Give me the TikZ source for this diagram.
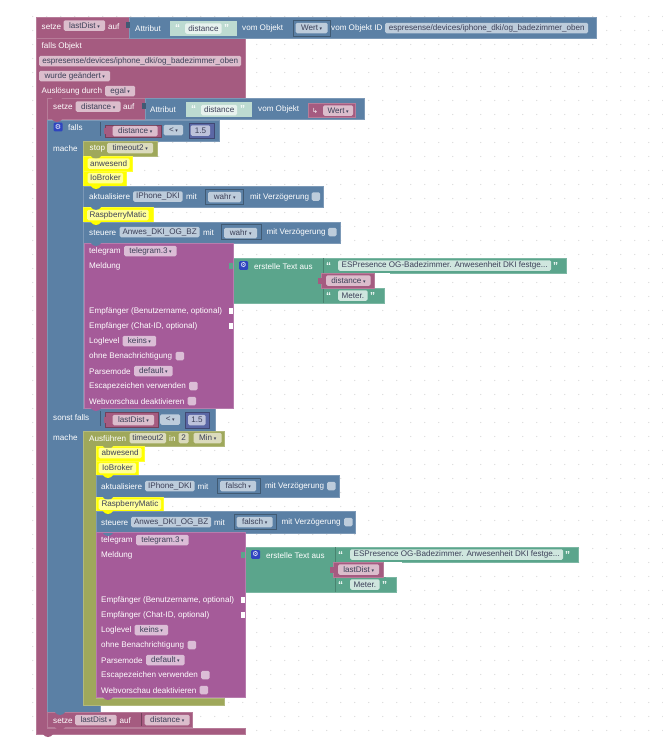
\documentclass[tikz,border=0pt]{standalone}
\usepackage{fontspec}
\setmainfont{Liberation Sans}
\newfontfamily\symfont{DejaVu Sans}
\definecolor{redblock}{HTML}{A55B80}
\definecolor{blueblock}{HTML}{5B80A5}
\definecolor{oliveblock}{HTML}{9FA85B}
\definecolor{purpleblock}{HTML}{A55B99}
\definecolor{greenblock}{HTML}{5BA58C}
\definecolor{numblock}{HTML}{5B67A5}
\definecolor{yellowblock}{HTML}{FFFF00}
\definecolor{lightgreen}{HTML}{BDDBD1}
\definecolor{chipred}{HTML}{DBBDCC}
\definecolor{chipblue}{HTML}{BDCCDB}
\definecolor{chipolive}{HTML}{DBDBBD}
\definecolor{chippurple}{HTML}{DBBDD6}
\definecolor{chipgreen}{HTML}{CFE6DE}
\definecolor{chipnum}{HTML}{BDC2DB}
\definecolor{chipyellow}{HTML}{FFFF99}
\definecolor{chiptext}{HTML}{3C4058}
\definecolor{griddot}{HTML}{D8D8D8}
\definecolor{gearblue}{HTML}{2F45C0}
\tikzset{
    blk/.style={fill=#1, draw=#1!80!white, line width=.4pt},
    slot/.style={fill=#1, draw=#1!70!black, line width=.5pt},
    lbl/.style={anchor=west, inner sep=0pt, yshift=-.5pt, text=white, font=\fontsize{8.1}{9.7}\selectfont},
    chipbox/.style={fill=#1, rounded corners=1.5pt, anchor=west, inner sep=0pt, minimum height=10.5pt,
        text=chiptext, font=\fontsize{8.1}{9.7}\selectfont},
    checkbox/.style={fill=#1, rounded corners=1.5pt, anchor=west, inner sep=0pt, minimum size=8.5pt},
    gearbox/.style={fill=gearblue, rounded corners=1pt, anchor=west, inner sep=0pt, minimum size=8.8pt,
        text=white, font=\symfont\fontsize{7}{7}\selectfont},
    quot/.style={anchor=west, inner sep=0pt, text=white, font=\bfseries\fontsize{10}{10}\selectfont}
}
\newcommand{\dd}{{\symfont\fontsize{5}{5}\selectfont\ ▾}}
\newcommand{\lbl}[4]{\node[lbl] (#1) at (#2,#3) {#4};}
\newcommand{\chip}[6]{\node[chipbox=#1, minimum width={(#4-#3)*1pt}] (#2) at (#3,#5) {#6};}
\newcommand{\cbox}[4]{\node[checkbox=#1] (#2) at (#3,#4) {};}
\newcommand{\bump}[3]{\fill[#3] (#1-5,#2) .. controls (#1-3,#2+4) and (#1+3,#2+4) .. (#1+5,#2) -- cycle;}
\newcommand{\tabin}[3]{\fill[#3] (#1-2,#2-3) rectangle (#1+2,#2+3);}
\newcommand{\telegramblock}[6]{
    \begin{scope}[shift={(#2,#3)}]
        \draw[blk=greenblock] (233,258) -- (566.5,258) -- (566.5,273) -- (374,273) -- (374,288)
            -- (384,288) -- (384,303) -- (233,303) -- cycle;
        \fill[white] (#6,273) rectangle (390,288);
        \draw[blk=purpleblock] (84,243) rectangle (233,408);
        \tabin{231}{266}{greenblock}
        \fill[white] (229,308) rectangle (233,314);
        \fill[white] (229,323) rectangle (233,329);
        \lbl{#1tele}{89}{251}{telegram}
        \chip{chippurple}{#1inst}{124}{176.5}{251}{telegram.3\dd}
        \lbl{#1meld}{89}{266}{Meldung}
        \lbl{#1user}{89}{311}{Empfänger (Benutzername, optional)}
        \lbl{#1chat}{89}{326}{Empfänger (Chat-ID, optional)}
        \lbl{#1log}{89}{341}{Loglevel}
        \chip{chippurple}{#1keins}{122.5}{156}{341}{keins\dd}
        \lbl{#1ohne}{89}{356}{ohne Benachrichtigung}
        \cbox{chippurple}{#1cbohne}{175.5}{356}
        \lbl{#1parse}{89}{371}{Parsemode}
        \chip{chippurple}{#1default}{134}{172.5}{371}{default\dd}
        \lbl{#1esc}{89}{386}{Escapezeichen verwenden}
        \cbox{chippurple}{#1cbesc}{189}{386}
        \lbl{#1web}{89}{401}{Webvorschau deaktivieren}
        \cbox{chippurple}{#1cbweb}{187.5}{401}
        \node[gearbox] (#1gear) at (239,265.5) {⚙};
        \lbl{#1text}{254}{266}{erstelle Text aus}
        \draw[greenblock!80!black, line width=.4pt] (323,258) -- (323,303);
        \node[quot] (#1qa) at (326,266.5) {“};
        \chip{chipgreen}{#1esp}{338}{551}{265.5}{ESPresence OG-Badezimmer. Anwesenheit DKI festge...}
        \node[quot] (#1qb) at (553,266.5) {”};
        \draw[blk=redblock] (321,273) rectangle (#6,288);
        \tabin{320}{280.5}{redblock}
        \chip{chipred}{#1var}{326}{#5}{280.5}{#4\dd}
        \node[quot] (#1qc) at (326,296.5) {“};
        \chip{chipgreen}{#1meter}{338}{367.5}{295.5}{Meter.}
        \node[quot] (#1qd) at (370,296.5) {”};
    \end{scope}
}
\begin{document}
\begin{tikzpicture}[x=1pt,y=-1pt]
    \useasboundingbox (0,0) rectangle (663,744);
    \fill[white] (0,0) rectangle (663,744);
    \foreach \i in {0,...,45} {
        \foreach \j in {0,...,51} {
            \fill[griddot] ({32.8+14*\i},{16.5+14*\j}) circle (.6);
        }
    }
    \draw[blk=redblock] (36,38) -- (245,38) -- (245,98) -- (47,98) -- (47,728) -- (245,728) -- (245,734) -- (36,734) -- cycle;
    \bump{48}{734}{redblock}
    \draw[blk=blueblock] (47,120) -- (219,120) -- (219,141) -- (83,141) -- (83,408) -- (215,408) -- (215,431)
        -- (83,431) -- (83,705) -- (100,705) -- (100,713) -- (47,713) -- cycle;
    \draw[blk=oliveblock] (83,431) -- (224.5,431) -- (224.5,446) -- (96,446) -- (96,698) -- (224.5,698) -- (224.5,705) -- (83,705) -- cycle;
    % top row
    \draw[blk=redblock] (36,17) rectangle (129,38);
    \bump{48}{13.5}{white}
    \draw[blk=blueblock] (129,17.5) rectangle (596.5,38.5);
    \lbl{setzea}{41.5}{26}{setze}
    \chip{chipred}{lastdista}{63.5}{105}{25.5}{lastDist\dd}
    \lbl{aufa}{108}{26}{auf}
    \tabin{128}{25}{blueblock!70!black}
    \lbl{attra}{135}{28}{Attribut}
    \fill[lightgreen] (170,21) rectangle (236.5,36);
    \node[quot] (qa) at (175,28.5) {“};
    \chip{chipgreen!50!white}{dista}{185}{221.5}{28.5}{distance}
    \node[quot] (qb) at (224,28.5) {”};
    \lbl{voma}{242}{28}{vom Objekt}
    \draw[slot=blueblock] (293,20) rectangle (330,36);
    \chip{chipblue}{werta}{295.5}{327.5}{28}{Wert\dd}
    \lbl{vomb}{331}{28}{vom Objekt ID}
    \chip{chipblue}{idtop}{385}{588}{28}{espresense/devices/iphone\_dki/og\_badezimmer\_oben}
    % falls Objekt
    \lbl{fallsobj}{41.5}{46}{falls Objekt}
    \chip{chipred}{idobj}{39}{241}{61}{espresense/devices/iphone\_dki/og\_badezimmer\_oben}
    \chip{chipred}{changed}{39}{110}{76}{wurde geändert\dd}
    \lbl{ausl}{41.5}{91}{Auslösung durch}
    \chip{chipred}{egal}{105}{135}{91}{egal\dd}
    % setze distance
    \draw[blk=redblock] (47,98) rectangle (145,119);
    \bump{57}{98}{redblock}
    \draw[blk=blueblock] (145,98) rectangle (364,119);
    \lbl{setzeb}{53}{106.5}{setze}
    \chip{chipred}{distb}{75.5}{120.5}{106.5}{distance\dd}
    \lbl{aufb}{123}{106.5}{auf}
    \tabin{144}{106}{blueblock!70!black}
    \lbl{attrb}{150}{109}{Attribut}
    \fill[lightgreen] (186,101.5) rectangle (252,117);
    \node[quot] (qc) at (191,109.5) {“};
    \chip{chipgreen!50!white}{distc}{201}{237}{110}{distance}
    \node[quot] (qd) at (240,109.5) {”};
    \lbl{vomc}{258}{109}{vom Objekt}
    \draw[blk=redblock] (308,103.5) rectangle (355.5,117);
    \node[lbl, font=\symfont\fontsize{7}{7}\selectfont] (argwert) at (312,110.5) {↳};
    \chip{chipred}{wertb}{323}{353}{110.5}{Wert\dd}
    \bump{57}{119}{redblock}
    % falls
    \node[gearbox] (gearfalls) at (53.5,127) {⚙};
    \lbl{falls}{68}{127}{falls}
    \draw[blueblock!70!black, line width=.4pt] (100,122) -- (100,136);
    \draw[slot=redblock] (105,125) rectangle (161.5,137);
    \tabin{106}{131}{redblock}
    \chip{chipred}{distd}{112.5}{157.5}{131}{distance\dd}
    \chip{chipblue}{lta}{163.5}{183}{130}{<\dd}
    \draw[slot=numblock] (189,123) rectangle (214,138);
    \chip{chipnum}{numa}{190.5}{210}{130.5}{1.5}
    \lbl{machea}{53}{148}{mache}
    % first branch
    \draw[blk=oliveblock] (83,141) rectangle (157,156);
    \lbl{stop}{89.5}{148}{stop}
    \chip{chipolive}{timera}{107}{153}{148}{timeout2\dd}
    \draw[blk=yellowblock] (83,156) rectangle (132,171);
    \bump{96}{156}{oliveblock}
    \chip{chipyellow}{anw}{87.5}{129.5}{163.5}{anwesend}
    \draw[blk=yellowblock] (83,171) rectangle (126,186);
    \chip{chipyellow}{iobra}{87.5}{123}{178}{IoBroker}
    \draw[blk=blueblock] (83,186) rectangle (323.5,207);
    \bump{96}{186}{yellowblock}
    \lbl{akta}{89}{196.5}{aktualisiere}
    \chip{chipblue}{iphonea}{133}{182.5}{196.5}{IPhone\_DKI}
    \lbl{mita}{186}{196.5}{mit}
    \draw[slot=blueblock] (205.5,189) rectangle (243.5,204);
    \chip{chipblue}{wahra}{208}{241}{197}{wahr\dd}
    \lbl{verza}{250}{196.5}{mit Verzögerung}
    \cbox{chipblue}{cba}{311.5}{196.5}
    \draw[blk=yellowblock] (83,207) rectangle (153,222);
    \bump{96}{207}{blueblock}
    \chip{chipyellow}{raspa}{87}{148.5}{215}{RaspberryMatic}
    \draw[blk=blueblock] (83,222) rectangle (340,243);
    \bump{96}{222}{yellowblock}
    \lbl{steua}{89}{232}{steuere}
    \chip{chipblue}{anwesa}{119.5}{199.5}{232}{Anwes\_DKI\_OG\_BZ}
    \lbl{mitb}{203}{232}{mit}
    \draw[slot=blueblock] (221.5,224.5) rectangle (261.5,239.5);
    \chip{chipblue}{wahrb}{224}{257}{233}{wahr\dd}
    \lbl{verzb}{266.5}{232}{mit Verzögerung}
    \cbox{chipblue}{cbb}{328}{232}
    \telegramblock{ta}{0}{0}{distance}{370.5}{374}
    \bump{96}{243}{blueblock}
    \bump{96}{408}{purpleblock}
    % sonst falls
    \lbl{sonst}{53}{417}{sonst falls}
    \draw[blueblock!70!black, line width=.4pt] (100,411) -- (100,426);
    \draw[slot=redblock] (105,412.5) rectangle (158,427);
    \tabin{106}{420}{redblock}
    \chip{chipred}{lastdistb}{112.5}{154}{420}{lastDist\dd}
    \chip{chipblue}{ltb}{160}{180}{419.5}{<\dd}
    \draw[slot=numblock] (185,412) rectangle (209,428);
    \chip{chipnum}{numb}{188}{205.5}{420}{1.5}
    \lbl{macheb}{53}{437}{mache}
    % second branch
    \lbl{ausf}{89}{438}{Ausführen}
    \chip{chipolive}{timerb}{129.5}{166}{438}{timeout2}
    \lbl{intime}{169}{438}{in}
    \chip{chipolive}{numc}{178.5}{188.5}{438}{2}
    \chip{chipolive}{unit}{193.5}{221.5}{438}{Min\dd}
    \draw[blk=yellowblock] (96,446) rectangle (144,461);
    \bump{108}{446}{oliveblock}
    \chip{chipyellow}{abw}{98.5}{141.5}{453}{abwesend}
    \draw[blk=yellowblock] (96,461) rectangle (138,475);
    \chip{chipyellow}{iobrb}{98.5}{136}{468}{IoBroker}
    \draw[blk=blueblock] (96,475) rectangle (339,497);
    \bump{108}{475}{yellowblock}
    \lbl{aktb}{101}{486}{aktualisiere}
    \chip{chipblue}{iphoneb}{145}{194.5}{486}{IPhone\_DKI}
    \lbl{mitc}{197.5}{486}{mit}
    \draw[slot=blueblock] (217.5,478.5) rectangle (260,493.5);
    \chip{chipblue}{falscha}{220}{256}{486}{falsch\dd}
    \lbl{verzc}{265}{486}{mit Verzögerung}
    \cbox{chipblue}{cbc}{327}{486}
    \draw[blk=yellowblock] (96,497) rectangle (163,511);
    \bump{108}{497}{blueblock}
    \chip{chipyellow}{raspb}{98.5}{161}{504.5}{RaspberryMatic}
    \draw[blk=blueblock] (96,511) rectangle (355.5,533);
    \bump{108}{511}{yellowblock}
    \lbl{steub}{101}{522}{steuere}
    \chip{chipblue}{anwesb}{131}{211}{522}{Anwes\_DKI\_OG\_BZ}
    \lbl{mitd}{214}{522}{mit}
    \draw[slot=blueblock] (234,514.5) rectangle (276.5,529.5);
    \chip{chipblue}{falschb}{236.5}{272.5}{522}{falsch\dd}
    \lbl{verzd}{281.5}{522}{mit Verzögerung}
    \cbox{chipblue}{cbd}{344}{522}
    \telegramblock{tb}{12}{289}{lastDist}{367}{370.7}
    \bump{108}{533}{blueblock}
    \bump{108}{697}{purpleblock}
    % last row
    \draw[blk=redblock] (47,712) rectangle (192,727);
    \bump{60}{712}{blueblock}
    \bump{60}{727}{redblock}
    \lbl{setzec}{53}{720}{setze}
    \chip{chipred}{lastdistc}{75}{116.5}{720}{lastDist\dd}
    \lbl{aufc}{119.5}{720}{auf}
    \draw[redblock!70!black, line width=.4pt] (141,713) -- (141,726);
    \chip{chipred}{diste}{144.5}{189.5}{720}{distance\dd}
\end{tikzpicture}
\end{document}
